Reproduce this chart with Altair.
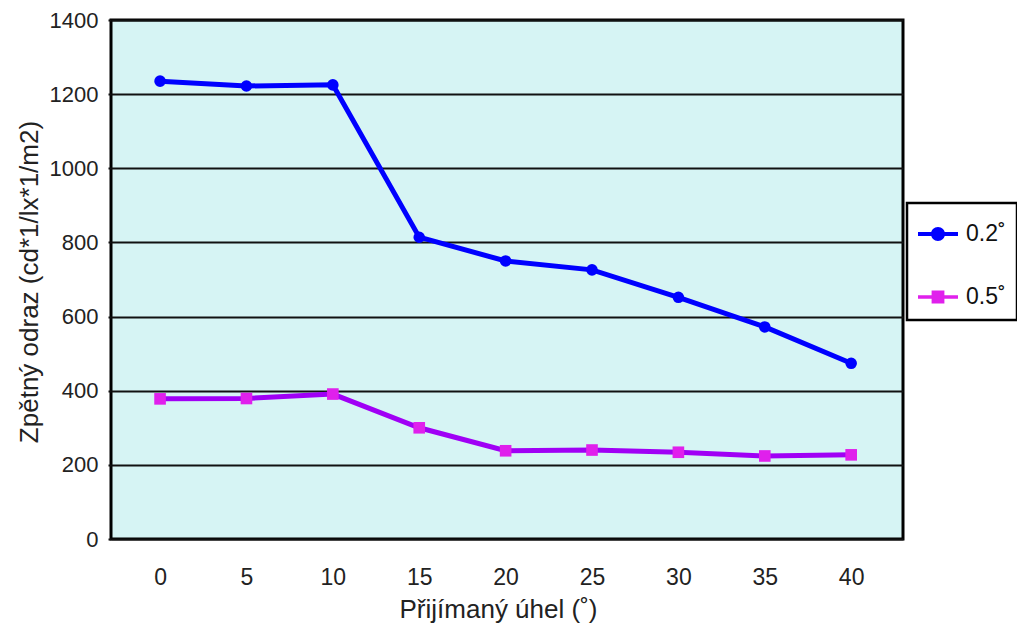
import altair as alt
import pandas as pd

# ---- data ----
angles = [0, 5, 10, 15, 20, 25, 30, 35, 40]
series_02 = [1235, 1222, 1225, 814, 750, 726, 652, 572, 474]
series_05 = [378, 379, 391, 300, 238, 240, 234, 224, 227]
series_names = ["0.2˚", "0.5˚"]
y_ticks = [0, 200, 400, 600, 800, 1000, 1200, 1400]

line_colors = ["#0000ff", "#a000f5"]
marker_colors = ["#0000ff", "#e020ec"]

rows = []
for a, v in zip(angles, series_02):
    rows.append({"angle": a, "value": v, "series": series_names[0]})
for a, v in zip(angles, series_05):
    rows.append({"angle": a, "value": v, "series": series_names[1]})
df = pd.DataFrame(rows)

FONT = "Liberation Sans"

x = alt.X(
    "angle:Q",
    scale=alt.Scale(domain=[-2.84, 43.0], nice=False, zero=False),
    axis=alt.Axis(
        values=angles, title="Přijímaný úhel (˚)", grid=False, ticks=False,
        domain=False, labelFontSize=23, labelPadding=27, labelColor="#222",
        titleFontSize=26, titleFontWeight="normal", titleColor="#222",
        titleX=387, titleY=57, titleBaseline="top", titleAlign="center",
    ),
)
y = alt.Y(
    "value:Q",
    scale=alt.Scale(domain=[0, 1400], nice=False),
    axis=alt.Axis(
        values=y_ticks, format="d", title="Zpětný odraz (cd*1/lx*1/m2)",
        grid=True, gridColor="#111", gridWidth=2,
        tickSize=3, tickColor="#111", tickWidth=2, domain=False,
        labelFontSize=22, labelPadding=10, labelColor="#222",
        titleFontSize=26, titleFontWeight="normal", titleColor="#222",
        titleX=-74, titleY=261.5, titleAngle=270,
        titleBaseline="alphabetic", titleAlign="center",
    ),
)

line = alt.Chart(df).mark_line(strokeWidth=5).encode(
    x=x, y=y,
    stroke=alt.Stroke("series:N", scale=alt.Scale(domain=series_names, range=line_colors), legend=None),
    detail="series:N",
)

pts = alt.Chart(df).mark_point(filled=True, size=135, opacity=1).encode(
    x=x, y=y,
    fill=alt.Fill("series:N", scale=alt.Scale(domain=series_names, range=marker_colors), legend=None),
    shape=alt.Shape("series:N", scale=alt.Scale(domain=series_names, range=["circle", "square"]), legend=None),
)

path_circle = "M-1,-0.1H1V0.1H-1Z M0.35,0A0.35,0.35,0,1,1,-0.35,0A0.35,0.35,0,1,1,0.35,0Z"
path_square = "M-1,-0.09H1V0.09H-1Z M-0.32,-0.32H0.32V0.32H-0.32Z"

legend_props = dict(
    orient="none", legendX=796, legendY=183, title=None,
    symbolSize=1600, symbolStrokeWidth=0,
    labelFontSize=23, labelOffset=8, labelColor="#111", labelFont=FONT,
    padding=11, rowPadding=31,
    strokeColor="black", fillColor="white",
)

leg = alt.Chart(df).transform_filter("datum.value < 0").mark_point(filled=True, opacity=1).encode(
    x=x, y=y,
    color=alt.Color("series:N", scale=alt.Scale(domain=series_names, range=marker_colors),
                    legend=alt.Legend(**legend_props)),
    shape=alt.Shape("series:N", scale=alt.Scale(domain=series_names, range=[path_circle, path_square]),
                    legend=alt.Legend(**legend_props)),
)

chart = (
    alt.layer(line, pts, leg)
    .resolve_scale(shape="independent", color="independent")
    .properties(
        width=792, height=519,
        autosize=alt.AutoSizeParams(type="none"),
        padding={"left": 103, "top": 12, "right": 114, "bottom": 86},
        background="white",
    )
    .configure(font=FONT)
    .configure_view(fill="#d6f4f4", stroke="black", strokeWidth=3)
    .configure_legend(strokeWidth=2.5)
)

chart.save("out.html", embed_options={"renderer": "svg", "actions": False})
